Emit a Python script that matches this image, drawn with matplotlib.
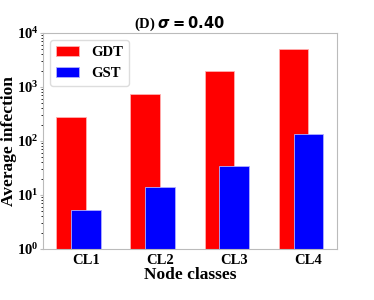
import matplotlib
matplotlib.use("Agg")
import matplotlib.pyplot as plt
import numpy as np

classes = ["CL1", "CL2", "CL3", "CL4"]
gdt = [280, 730, 1960, 5000]
gst = [5.3, 14, 35, 135]

plt.rcParams['font.family'] = ['Liberation Serif', 'DejaVu Serif']
plt.rcParams['font.weight'] = 'bold'
plt.rcParams['axes.labelweight'] = 'bold'
plt.rcParams['axes.titleweight'] = 'bold'

fig, ax = plt.subplots(figsize=(3.74, 3.0), dpi=100)
fig.subplots_adjust(left=0.115, right=0.9, top=0.89, bottom=0.17)

x = np.arange(len(classes))
w = 0.4
ax.bar(x - 0.2, gdt, w, color='red', edgecolor='#ffb0b0', linewidth=0.6, label='GDT')
ax.bar(x, gst, w, color='blue', edgecolor='#b0b0ff', linewidth=0.6, label='GST')

ax.set_yscale('log')
ax.set_ylim(1, 1e4)
ax.set_xticks(x)
ax.set_xticklabels(classes)

for s in ax.spines.values():
    s.set_color('#bbbbbb')
ax.tick_params(axis='both', colors='#bbbbbb', labelcolor='black', labelsize=10.5)
ax.tick_params(axis='x', length=0)
ax.tick_params(axis='y', which='major', length=2, pad=1.5)
ax.tick_params(axis='y', which='minor', length=1.5)

ax.set_xlabel('Node classes', fontsize=12.5, labelpad=0)
ax.set_ylabel('Average infection', fontsize=12.5)
ax.yaxis.set_label_coords(-0.09, 0.5)
ax.set_title(r'(D) $\boldsymbol{\sigma} = \mathbf{0.40}$', fontsize=10.5, pad=4, x=0.465)

leg = ax.legend(loc='upper left', fontsize=10.5, edgecolor='#dddddd', framealpha=1,
                handlelength=1.6)

fig.savefig('out.png', dpi=100)
